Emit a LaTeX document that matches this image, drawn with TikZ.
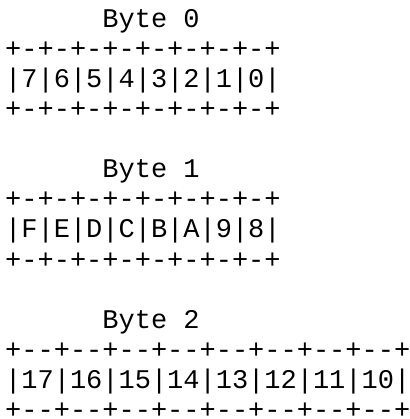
\documentclass[tikz,border=0pt]{standalone}
\usepackage{fontspec}
\setmonofont{Liberation Mono}
\usetikzlibrary{positioning}

\begin{document}
\begin{tikzpicture}[x=16.2pt,y=30pt,txt/.style={anchor=base west,inner sep=0pt,font=\fontsize{27}{30}\selectfont\ttfamily}]
    \useasboundingbox (-5pt,28pt) rectangle (404pt,-391pt);
    \node[txt] (title0) at (6,0) {Byte 0};
    \node[txt] (top0) at (0,-1) {+-+-+-+-+-+-+-+-+};
    \node[txt] (bits0) at (0,-2) {|7|6|5|4|3|2|1|0|};
    \node[txt] (bot0) at (0,-3) {+-+-+-+-+-+-+-+-+};
    \node[txt] (title1) at (6,-5) {Byte 1};
    \node[txt] (top1) at (0,-6) {+-+-+-+-+-+-+-+-+};
    \node[txt] (bits1) at (0,-7) {|F|E|D|C|B|A|9|8|};
    \node[txt] (bot1) at (0,-8) {+-+-+-+-+-+-+-+-+};
    \node[txt] (title2) at (6,-10) {Byte 2};
    \node[txt] (top2) at (0,-11) {+--+--+--+--+--+--+--+--+};
    \node[txt] (bits2) at (0,-12) {|17|16|15|14|13|12|11|10|};
    \node[txt] (bot2) at (0,-13) {+--+--+--+--+--+--+--+--+};
  \end{tikzpicture}
\end{document}
